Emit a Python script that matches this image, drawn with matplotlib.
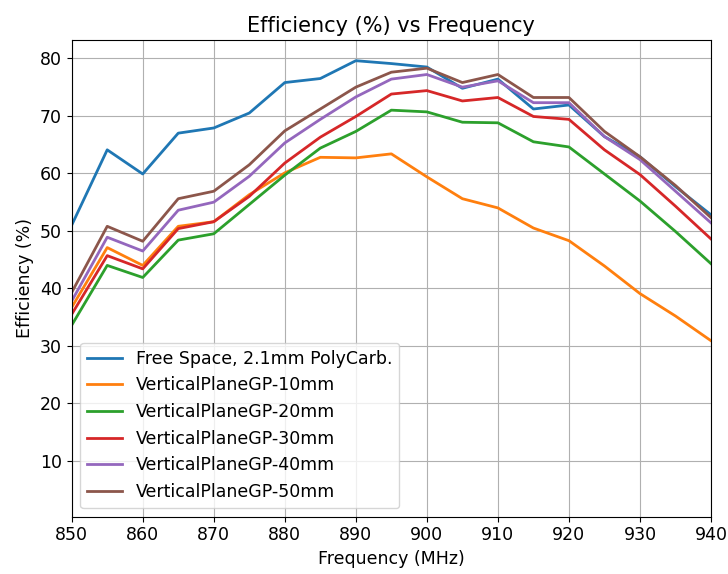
import matplotlib
matplotlib.use('Agg')
import matplotlib.pyplot as plt

freq = [850, 855, 860, 865, 870, 875, 880, 885, 890, 895,
        900, 905, 910, 915, 920, 925, 930, 935, 940]

free_space = [51.0, 64.1, 59.9, 67.0, 67.9, 70.5, 75.8, 76.5, 79.6, 79.1,
              78.5, 74.8, 76.4, 71.2, 71.9, 66.4, 62.9, 57.7, 52.8]
gp_10 = [36.7, 47.1, 44.0, 50.8, 51.6, 56.3, 60.1, 62.8, 62.7, 63.4,
         59.4, 55.6, 54.0, 50.5, 48.3, 43.9, 39.1, 35.2, 30.9]
gp_20 = [33.6, 44.0, 41.9, 48.4, 49.5, 54.6, 59.7, 64.4, 67.3, 71.0,
         70.7, 68.9, 68.8, 65.5, 64.6, 59.9, 55.2, 49.9, 44.3]
gp_30 = [35.5, 45.7, 43.4, 50.4, 51.6, 56.0, 61.8, 66.3, 69.9, 73.8,
         74.4, 72.6, 73.2, 69.9, 69.4, 64.1, 59.8, 54.3, 48.6]
gp_40 = [37.8, 48.9, 46.5, 53.6, 55.0, 59.5, 65.3, 69.4, 73.3, 76.4,
         77.2, 75.0, 76.1, 72.3, 72.3, 66.4, 62.4, 56.9, 51.4]
gp_50 = [39.3, 50.8, 48.2, 55.6, 56.9, 61.5, 67.4, 71.2, 75.0, 77.6,
         78.3, 75.8, 77.2, 73.2, 73.2, 67.3, 62.9, 57.9, 52.3]

labels = ['Free Space, 2.1mm PolyCarb.', 'VerticalPlaneGP-10mm',
          'VerticalPlaneGP-20mm', 'VerticalPlaneGP-30mm',
          'VerticalPlaneGP-40mm', 'VerticalPlaneGP-50mm']
series = [free_space, gp_10, gp_20, gp_30, gp_40, gp_50]

plt.rcParams['font.size'] = 12.5

fig = plt.figure(figsize=(7.28, 5.74), dpi=100)
ax = fig.add_axes([71.7 / 728, 1 - 516.7 / 574, (711 - 71.7) / 728, (516.7 - 40) / 574])

for s, lab in zip(series, labels):
    ax.plot(freq, s, label=lab, linewidth=2)

ax.set_xlim(850, 940)
ax.set_ylim(0.3, 83.2)
ax.set_xticks(range(850, 941, 10))
ax.set_yticks(range(10, 81, 10))
ax.grid(True)
ax.set_title('Efficiency (%) vs Frequency', fontsize=15)
ax.set_xlabel('Frequency (MHz)')
ax.set_ylabel('Efficiency (%)')
ax.legend(loc='lower left')

fig.savefig('out.png', dpi=100)
